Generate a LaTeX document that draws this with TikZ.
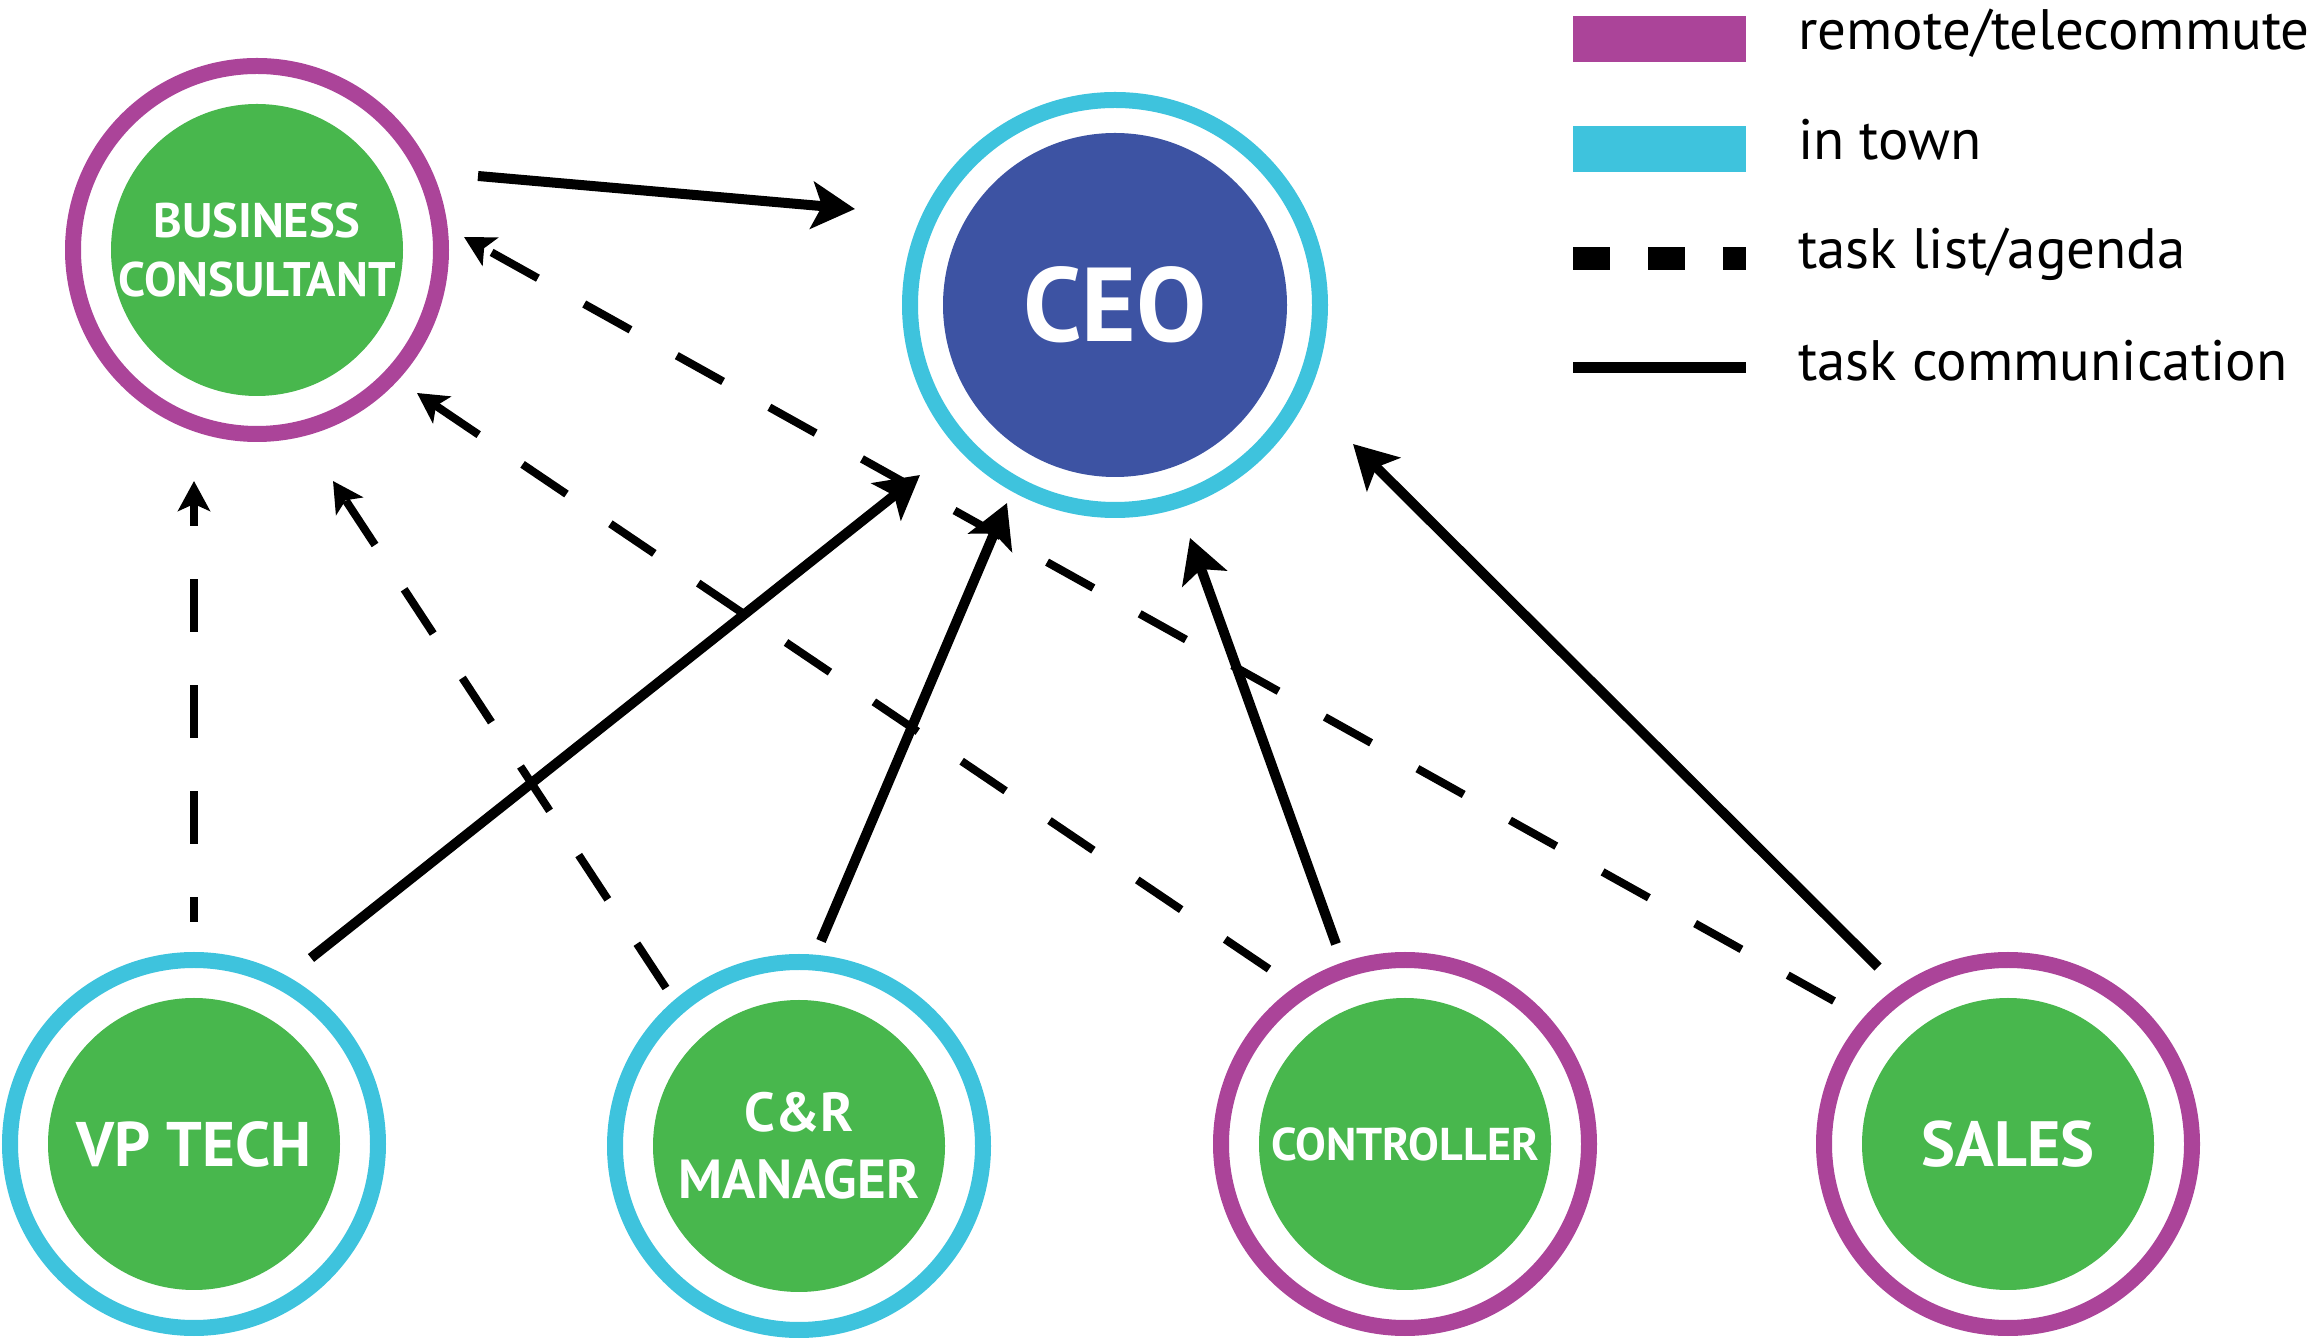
\documentclass[tikz,border=0pt]{standalone}
\usepackage{fontspec}
\setmainfont{PT Sans}
\usetikzlibrary{arrows.meta}
\definecolor{remote}{HTML}{AB4499}
\definecolor{town}{HTML}{3EC3DD}
\definecolor{staff}{HTML}{48B74D}
\definecolor{chief}{HTML}{3D53A3}
\tikzset{
  ringnode/.style={circle, line width=16pt, fill=white, inner sep=0pt, text=white, align=center},
  staffnode/.style={ringnode, draw=#1, minimum size=368pt,
    path picture={\fill[staff] (path picture bounding box.center) circle (146pt);}},
  ceonode/.style={ringnode, draw=town, minimum size=410pt,
    path picture={\fill[chief] (path picture bounding box.center) circle (172pt);}},
  comm/.style={line width=10pt, -{Stealth[length=43pt,width=47pt,inset=10pt]}},
  task/.style={line width=8pt, dash pattern=on 53pt off 53pt, -{Stealth[length=30pt,width=32pt,inset=7pt]}},
  legtext/.style={anchor=base west, inner sep=0pt, font=\fontsize{57}{66}\selectfont},
}
\begin{document}
\begin{tikzpicture}[x=1pt,y=1pt]
\useasboundingbox (0,0) rectangle (2319,1339);
% nodes
\node[staffnode=remote, font=\bfseries\fontsize{48.5}{59}\selectfont] (bc) at (257,1089) {BUSINESS\\CONSULTANT};
\node[ceonode, font=\bfseries\fontsize{105}{120}\selectfont] (ceo) at (1115,1034) {CEO};
\node[staffnode=town, font=\bfseries\fontsize{63}{75}\selectfont] (vp) at (194,195) {VP TECH};
\node[staffnode=town, font=\bfseries\fontsize{55}{67}\selectfont] (cr) at (799,193) {C\&R\\MANAGER};
\node[staffnode=remote, font=\bfseries\fontsize{46}{56}\selectfont] (ct) at (1405,195) {CONTROLLER};
\node[staffnode=remote, font=\bfseries\fontsize{64}{75}\selectfont] (sa) at (2008,195) {SALES};
% task list / agenda (dashed)
\draw[task, dash phase=28pt] ([shift={(0,222)}]vp.center) -- ([shift={(-63,-231)}]bc.center);
\draw[task] ([shift={(-133,158)}]cr.center) -- ([shift={(76,-231)}]bc.center);
\draw[task] ([shift={(-136,175)}]ct.center) -- ([shift={(160,-143)}]bc.center);
\draw[task] ([shift={(-174,143)}]sa.center) -- ([shift={(207,13)}]bc.center);
% task communication (solid)
\draw[comm] ([shift={(221,74)}]bc.center) -- ([shift={(-260,96)}]ceo.center);
\draw[comm] ([shift={(117,186)}]vp.center) -- ([shift={(-195,-170)}]ceo.center);
\draw[comm] ([shift={(22,205)}]cr.center) -- ([shift={(-108,-198)}]ceo.center);
\draw[comm] ([shift={(-69,200)}]ct.center) -- ([shift={(75,-233)}]ceo.center);
\draw[comm] ([shift={(-130,177)}]sa.center) -- ([shift={(238,-139)}]ceo.center);
% legend
\fill[remote] (1573,1277) rectangle (1746,1323);
\fill[town] (1573,1167) rectangle (1746,1213);
\draw[line width=23pt, dash pattern=on 37pt off 38pt] (1573,1080.5) -- (1746,1080.5);
\draw[line width=11pt] (1573,971.5) -- (1746,971.5);
\node[legtext] (l1) at (1798,1289) {remote/telecommute};
\node[legtext] (l2) at (1798,1179) {in town};
\node[legtext] (l3) at (1798,1070) {task list/agenda};
\node[legtext] (l4) at (1798,958) {task communication};
\end{tikzpicture}
\end{document}
